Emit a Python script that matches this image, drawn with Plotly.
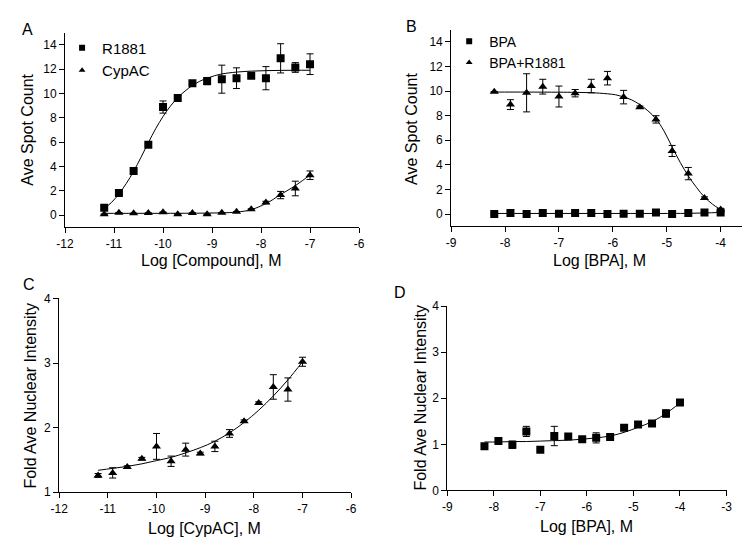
import plotly.graph_objects as go

# ---- dados ----
# painel A (Ave Spot Count vs Log [Compound])
a_x = [-11.2, -10.9, -10.6, -10.3, -10.0, -9.7, -9.4, -9.1, -8.8, -8.5, -8.2, -7.9, -7.6, -7.3, -7.0]
a_r1881 = [0.61, 1.81, 3.63, 5.79, 8.88, 9.63, 10.83, 11.01, 11.17, 11.25, 11.44, 11.25, 12.88, 12.13, 12.4]
a_r1881_err = [0.1, 0.1, 0.1, 0.1, 0.5, 0.2, 0.1, 0.3, 1.15, 0.85, 0.1, 0.95, 1.2, 0.4, 0.85]
a_cypac = [0.08, 0.2, 0.15, 0.18, 0.24, 0.08, 0.18, 0.08, 0.2, 0.29, 0.48, 1.04, 1.65, 2.19, 3.28]
a_cypac_err = [0, 0, 0, 0, 0, 0, 0, 0, 0, 0, 0.05, 0.1, 0.3, 0.6, 0.35]

a_fit_x = [-11.2, -11.05, -10.9, -10.75, -10.6, -10.45, -10.3, -10.15, -10.0, -9.85, -9.7, -9.55,
           -9.4, -9.25, -9.1, -8.95, -8.8, -8.5, -8.2, -7.9, -7.6, -7.3, -7.0]
a_fit_r1881 = [0.55, 1.05, 1.75, 2.6, 3.6, 4.75, 5.95, 7.1, 8.1, 8.95, 9.65, 10.2,
               10.65, 11.0, 11.25, 11.45, 11.6, 11.75, 11.83, 11.87, 11.89, 11.9, 11.9]
a_fit2_x = [-11.2, -10.6, -10.0, -9.4, -9.1, -8.8, -8.5, -8.2, -7.9, -7.75, -7.6, -7.45, -7.3, -7.15, -7.0]
a_fit_cypac = [0.15, 0.15, 0.15, 0.16, 0.17, 0.19, 0.25, 0.45, 0.95, 1.3, 1.7, 2.05, 2.42, 2.85, 3.3]

# painel B (BPA)
b_x = [-8.2, -7.9, -7.6, -7.3, -7.0, -6.7, -6.4, -6.1, -5.8, -5.5, -5.2, -4.9, -4.6, -4.3, -4.0]
b_bpa = [0.0, 0.08, 0.0, 0.08, 0.03, 0.08, 0.08, 0.0, 0.03, 0.03, 0.13, 0.0, 0.08, 0.13, 0.13]
b_bpa_err = [0, 0, 0, 0, 0, 0, 0, 0, 0, 0, 0, 0, 0, 0, 0]
b_mix = [9.94, 8.9, 9.86, 10.36, 9.56, 9.83, 10.41, 11.05, 9.51, 8.69, 7.7, 5.13, 3.29, 1.3, 0.37]
b_mix_err = [0, 0.4, 1.55, 0.6, 0.85, 0.3, 0.55, 0.55, 0.55, 0.1, 0.3, 0.45, 0.5, 0.1, 0.1]

b_fit_x = [-8.2, -7.6, -7.0, -6.7, -6.4, -6.1, -5.95, -5.8, -5.65, -5.5, -5.35, -5.2, -5.05,
           -4.9, -4.75, -4.6, -4.45, -4.3, -4.15, -4.0]
b_fit_mix = [9.92, 9.92, 9.91, 9.9, 9.87, 9.78, 9.7, 9.52, 9.28, 8.9, 8.4, 7.75, 6.75,
             5.45, 4.2, 3.1, 2.18, 1.38, 0.8, 0.35]
b_fit2_x = [-8.2, -7.0, -5.8, -4.9, -4.6, -4.3, -4.0]
b_fit_bpa = [0.05, 0.05, 0.05, 0.05, 0.06, 0.09, 0.13]

# painel C (CypAC, intensidade)
c_x = a_x
c_y = [1.26, 1.30, 1.39, 1.52, 1.71, 1.48, 1.66, 1.60, 1.71, 1.91, 2.10, 2.38, 2.63, 2.59, 3.02]
c_err = [0.03, 0.08, 0.02, 0.02, 0.2, 0.08, 0.1, 0.02, 0.08, 0.06, 0.02, 0.02, 0.19, 0.18, 0.07]
c_fit = [1.34, 1.37, 1.40, 1.44, 1.49, 1.54, 1.61, 1.69, 1.79, 1.92, 2.08, 2.27, 2.49, 2.74, 3.02]

# painel D (BPA, intensidade)
d_x = b_x
d_y = [0.96, 1.07, 0.99, 1.28, 0.88, 1.18, 1.17, 1.11, 1.14, 1.16, 1.36, 1.43, 1.45, 1.67, 1.91]
d_err = [0.02, 0.02, 0.08, 0.11, 0.02, 0.21, 0.02, 0.02, 0.11, 0.02, 0.02, 0.05, 0.02, 0.08, 0.02]
d_fit = [1.05, 1.05, 1.06, 1.06, 1.07, 1.08, 1.09, 1.11, 1.14, 1.18, 1.26, 1.37, 1.49, 1.67, 1.9]

# ticks
a_xticks = [-12, -11, -10, -9, -8, -7, -6]
b_xticks = [-9, -8, -7, -6, -5, -4]
d_xticks = [-9, -8, -7, -6, -5, -4, -3]
ab_yticks = [0, 2, 4, 6, 8, 10, 12, 14]
c_yticks = [1, 2, 3, 4]
d_yticks = [0, 1, 2, 3, 4]

FONT = 'Liberation Sans, Arial, sans-serif'
W, H = 750, 539


def px_x(p):
    return p / W


def px_y(p):
    return 1 - p / H


def pontos(x, y, err, xa, ya, simbolo):
    return go.Scatter(
        x=x, y=y, mode='markers',
        marker=dict(symbol=simbolo, size=8, color='black'),
        error_y=dict(type='data', array=err, visible=True, color='black', thickness=1, width=3.5),
        xaxis=xa, yaxis=ya, showlegend=False,
    )


def curva(x, y, xa, ya):
    return go.Scatter(
        x=x, y=y, mode='lines', line=dict(color='black', width=1, shape='spline'),
        xaxis=xa, yaxis=ya, showlegend=False, hoverinfo='skip',
    )


def item_legenda(nome, simbolo, legenda, xa, ya):
    # so para a legenda (simbolos menores como no original)
    return go.Scatter(
        x=[None], y=[None], mode='markers', name=nome,
        marker=dict(symbol=simbolo, size=6, color='black'),
        xaxis=xa, yaxis=ya, legend=legenda, showlegend=True,
    )


fig = go.Figure()
# A
fig.add_trace(curva(a_fit_x, a_fit_r1881, 'x', 'y'))
fig.add_trace(curva(a_fit2_x, a_fit_cypac, 'x', 'y'))
fig.add_trace(pontos(a_x, a_r1881, a_r1881_err, 'x', 'y', 'square'))
fig.add_trace(pontos(a_x, a_cypac, a_cypac_err, 'x', 'y', 'triangle-up'))
fig.add_trace(item_legenda('R1881', 'square', 'legend', 'x', 'y'))
fig.add_trace(item_legenda('CypAC', 'triangle-up', 'legend', 'x', 'y'))
# B
fig.add_trace(curva(b_fit_x, b_fit_mix, 'x2', 'y2'))
fig.add_trace(curva(b_fit2_x, b_fit_bpa, 'x2', 'y2'))
fig.add_trace(pontos(b_x, b_bpa, b_bpa_err, 'x2', 'y2', 'square'))
fig.add_trace(pontos(b_x, b_mix, b_mix_err, 'x2', 'y2', 'triangle-up'))
fig.add_trace(item_legenda('BPA', 'square', 'legend2', 'x2', 'y2'))
fig.add_trace(item_legenda('BPA+R1881', 'triangle-up', 'legend2', 'x2', 'y2'))
# C
fig.add_trace(curva(c_x, c_fit, 'x3', 'y3'))
fig.add_trace(pontos(c_x, c_y, c_err, 'x3', 'y3', 'triangle-up'))
# D
fig.add_trace(curva(d_x, d_fit, 'x4', 'y4'))
fig.add_trace(pontos(d_x, d_y, d_err, 'x4', 'y4', 'square'))

eixo = dict(
    showline=True, linecolor='black', linewidth=1,
    ticks='outside', ticklen=5, tickwidth=1, tickcolor='black',
    showgrid=False, zeroline=False,
    tickfont=dict(family=FONT, size=12, color='black'),
)


def rot(vals):
    return [str(v) for v in vals]


fig.update_layout(
    width=W, height=H,
    paper_bgcolor='white', plot_bgcolor='white',
    margin=dict(l=0, r=0, t=0, b=0),
    font=dict(family=FONT, color='black'),
    xaxis=dict(eixo, domain=[px_x(49), px_x(349)], range=[-12, -6], anchor='y',
               tickvals=a_xticks, ticktext=rot(a_xticks)),
    yaxis=dict(eixo, domain=[px_y(218), px_y(18)], range=[-1, 15], anchor='x',
               tickvals=ab_yticks, ticktext=rot(ab_yticks)),
    xaxis2=dict(eixo, domain=[px_x(443), px_x(747)], range=[-9, -9 + 304 / 55], anchor='y2',
                tickvals=b_xticks, ticktext=rot(b_xticks)),
    yaxis2=dict(eixo, domain=[px_y(217), px_y(15)], range=[-1, 15], anchor='x2',
                tickvals=ab_yticks, ticktext=rot(ab_yticks)),
    xaxis3=dict(eixo, domain=[px_x(43), px_x(341)], range=[-12, -6], anchor='y3',
                tickvals=a_xticks, ticktext=rot(a_xticks)),
    yaxis3=dict(eixo, domain=[px_y(490), px_y(291)], range=[1, 4], anchor='x3',
                tickvals=c_yticks, ticktext=rot(c_yticks)),
    xaxis4=dict(eixo, domain=[px_x(439), px_x(724)], range=[-9, -3], anchor='y4',
                tickvals=d_xticks, ticktext=rot(d_xticks)),
    yaxis4=dict(eixo, domain=[px_y(488), px_y(299)], range=[0, 4], anchor='x4',
                tickvals=d_yticks, ticktext=rot(d_yticks)),
    legend=dict(x=px_x(46), y=px_y(17), xanchor='left', yanchor='top',
                bgcolor='rgba(0,0,0,0)', font=dict(family=FONT, size=15, color='black'),
                tracegroupgap=0),
    legend2=dict(x=px_x(441), y=px_y(11), xanchor='left', yanchor='top',
                 bgcolor='rgba(0,0,0,0)', font=dict(family=FONT, size=14, color='black'),
                 tracegroupgap=0),
)

# titulos dos eixos e letras dos paineis
textos = [
    ('Log [Compound], M', 198, 252, 0),
    ('Log [BPA], M', 594, 252, 0),
    ('Log [CypAC], M', 191, 527, 0),
    ('Log [BPA], M', 581, 525, 0),
    ('Ave Spot Count', 11, 118, -90),
    ('Ave Spot Count', 403, 117, -90),
    ('Fold Ave Nuclear Intensity', 14, 391, -90),
    ('Fold Ave Nuclear Intensity', 412, 393, -90),
]
for t, x, y, ang in textos:
    fig.add_annotation(text=t, xref='paper', yref='paper', x=px_x(x), y=px_y(y),
                       showarrow=False, textangle=ang, xanchor='center', yanchor='middle',
                       font=dict(family=FONT, size=16, color='black'))

letras = [('A', 11, 15), ('B', 403, 12), ('C', 12, 277), ('D', 391, 285)]
for t, x, y in letras:
    fig.add_annotation(text=t, xref='paper', yref='paper', x=px_x(x), y=px_y(y),
                       showarrow=False, xanchor='center', yanchor='middle',
                       font=dict(family=FONT, size=16, color='black'))

fig.write_html("out.html")
